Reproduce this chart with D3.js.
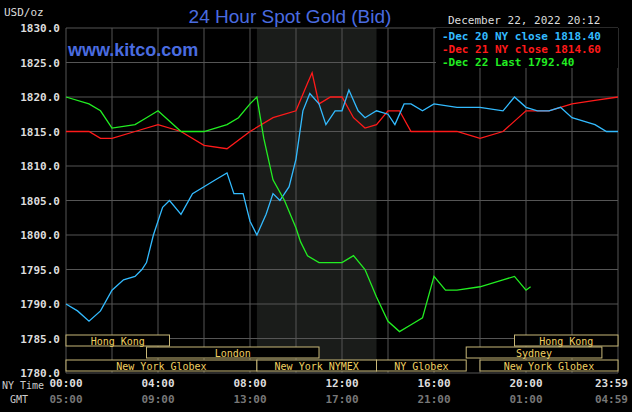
<!DOCTYPE html>
<html>
<head>
<meta charset="utf-8">
<script src="https://cdn.jsdelivr.net/npm/d3@7"></script>
<style>
  body { margin: 0; background: #000; }
  svg text { font-family: "DejaVu Sans Mono", monospace; }
</style>
</head>
<body>
<svg id="chart" width="632" height="412"></svg>
<script>
// hours since 00:00 NY time, price
var blue = [[0,1790],[0.5,1789],[1,1787.5],[1.5,1789],[2,1792],[2.5,1793.5],[3,1794],[3.3,1795],[3.5,1796],[3.8,1800],[4.2,1804],[4.5,1805],[5,1803],[5.5,1806],[6,1807],[6.5,1808],[7,1809],[7.3,1806],[7.7,1806],[8,1802],[8.3,1800],[8.7,1803],[9,1806],[9.3,1805],[9.7,1807],[10,1811],[10.3,1818],[10.6,1820.5],[11,1819],[11.3,1816],[11.7,1818],[12,1818],[12.3,1821],[12.7,1818],[13,1817],[13.5,1818],[14,1817.5],[14.3,1816],[14.7,1819],[15,1819],[15.5,1818],[16,1819],[17,1818.5],[18,1818.5],[19,1818],[19.5,1820],[20,1818.5],[20.5,1818],[21,1818],[21.5,1818.5],[22,1817],[22.5,1816.5],[23,1816],[23.5,1815],[24,1815]];
var red = [[0,1815],[1,1815],[1.5,1814],[2,1814],[3,1815],[4,1816],[5,1815],[6,1813],[7,1812.5],[8,1815],[9,1817],[10,1818],[10.5,1822],[10.7,1823.5],[11,1819],[11.5,1820],[12,1820],[12.5,1817],[13,1815.5],[13.5,1816],[14,1818],[14.5,1818],[15,1815],[16,1815],[17,1815],[18,1814],[19,1815],[20,1818],[21,1818],[22,1819],[23,1819.5],[24,1820]];
var green = [[0,1820],[1,1819],[1.5,1818],[2,1815.5],[3,1816],[3.5,1817],[4,1818],[5,1815],[6,1815],[7,1816],[7.5,1817],[8,1819],[8.3,1820],[8.6,1814],[9,1808],[9.5,1805],[10,1801],[10.2,1799],[10.5,1797],[11,1796],[12,1796],[12.5,1797],[13,1795],[13.5,1791],[14,1787.5],[14.5,1786],[15,1787],[15.5,1788],[16,1794],[16.5,1792],[17,1792],[18,1792.5],[19,1793.5],[19.5,1794],[20,1792],[20.2,1792.5]];
var yTicks = [1780,1785,1790,1795,1800,1805,1810,1815,1820,1825,1830];
var xTicks = [0,4,8,12,16,20,24];
var nyLabels = ["00:00","04:00","08:00","12:00","16:00","20:00","23:59"];
var gmtLabels = ["05:00","09:00","13:00","17:00","21:00","01:00","04:59"];
// sessions: [start hour, end hour, row, label]
var sessions = [[0,4.5,0,"Hong Kong"],[19.5,24,0,"Hong Kong"],[3.5,11,1,"London"],[17.4,23.3,1,"Sydney"],
  [0,8.3,2,"New York Globex"],[8.3,13.5,2,"New York NYMEX"],[13.5,17.4,2,"NY Globex"],[18,24,2,"New York Globex"]];
var legend = [["#33bbff","Dec 20 NY close 1818.40"],["#ff1a1a","Dec 21 NY close 1814.60"],["#22ee22","Dec 22 Last 1792.40"]];

var svg = d3.select("#chart");
var x = d3.scaleLinear().domain([0,24]).range([66,618]);
var y = d3.scaleLinear().domain([1780,1830]).range([373,28]);

svg.append("rect").attr("x", x(8.3)).attr("y", 28).attr("width", x(13.5)-x(8.3)).attr("height", 345).attr("fill", "#1a1c1a");

var grid = svg.append("g").attr("stroke", "#555").attr("stroke-width", 1);
d3.range(0,25,2).forEach(function(h){
  grid.append("line").attr("x1", x(h)).attr("x2", x(h)).attr("y1", 28).attr("y2", 373);
});
yTicks.forEach(function(v){
  grid.append("line").attr("x1", 66).attr("x2", 618).attr("y1", y(v)).attr("y2", y(v));
});

svg.selectAll(".yl").data(yTicks.filter(function(d,i){ return i%1==0; })).enter().append("text")
  .attr("x", 60).attr("y", function(d){ return y(d)+4; }).attr("text-anchor","end")
  .attr("fill","#ddd").attr("font-size",11).attr("font-weight","bold").text(function(d){ return d.toFixed(1); });
svg.append("text").attr("x",4).attr("y",16).attr("fill","#ddd").attr("font-size",11).text("USD/oz");

var line = d3.line().x(function(d){ return x(d[0]); }).y(function(d){ return y(d[1]); });
[[red,"#ff1a1a"],[blue,"#33bbff"],[green,"#22ee22"]].forEach(function(s){
  svg.append("path").datum(s[0]).attr("d", line).attr("fill","none").attr("stroke", s[1]).attr("stroke-width",1.3);
});

var rowY = [335,347,360];
sessions.forEach(function(s){
  svg.append("rect").attr("x", x(s[0])).attr("y", rowY[s[2]]).attr("width", x(s[1])-x(s[0])).attr("height", 11)
    .attr("fill","#000").attr("stroke","#c8b878").attr("stroke-width",1);
  svg.append("text").attr("x",(x(s[0])+x(s[1]))/2).attr("y",rowY[s[2]]+9.5).attr("text-anchor","middle")
    .attr("fill","#f0d060").attr("font-size",10).text(s[3]);
});

xTicks.forEach(function(h,i){
  svg.append("text").attr("x", x(h)).attr("y",387).attr("text-anchor", i==6 ? "end" : "middle")
    .attr("dx", i==6 ? 10 : 0).attr("fill","#ddd").attr("font-size",11).attr("font-weight","bold").text(nyLabels[i]);
  svg.append("text").attr("x", x(h)).attr("y",403).attr("text-anchor", i==6 ? "end" : "middle")
    .attr("dx", i==6 ? 10 : 0).attr("fill","#777").attr("font-size",11).attr("font-weight","bold").text(gmtLabels[i]);
});
svg.append("text").attr("x",2).attr("y",389).attr("fill","#ccc").attr("font-size",10).text("NY Time");
svg.append("text").attr("x",10).attr("y",403).attr("fill","#ccc").attr("font-size",10).text("GMT");

svg.append("text").attr("x",290).attr("y",23).attr("text-anchor","middle").attr("fill","#4a6ce0")
  .attr("font-family","Liberation Sans, Arial").attr("font-size",19).style("font-family","Liberation Sans").text("24 Hour Spot Gold (Bid)");
svg.append("text").attr("x",68).attr("y",56).attr("fill","#4a6ce0").attr("font-size",18)
  .style("font-family","Liberation Sans").attr("font-weight","bold").text("www.kitco.com");

svg.append("rect").attr("x",436).attr("y",28).attr("width",182).attr("height",40).attr("fill","#000");
svg.append("text").attr("x",448).attr("y",24).attr("fill","#ddd").attr("font-size",11).text("December 22, 2022 20:12");
legend.forEach(function(l,i){
  svg.append("text").attr("x",442).attr("y",40+i*13).attr("fill",l[0]).attr("font-size",11).attr("font-weight","bold").text("-" + l[1]);
});
</script>
</body>
</html>
